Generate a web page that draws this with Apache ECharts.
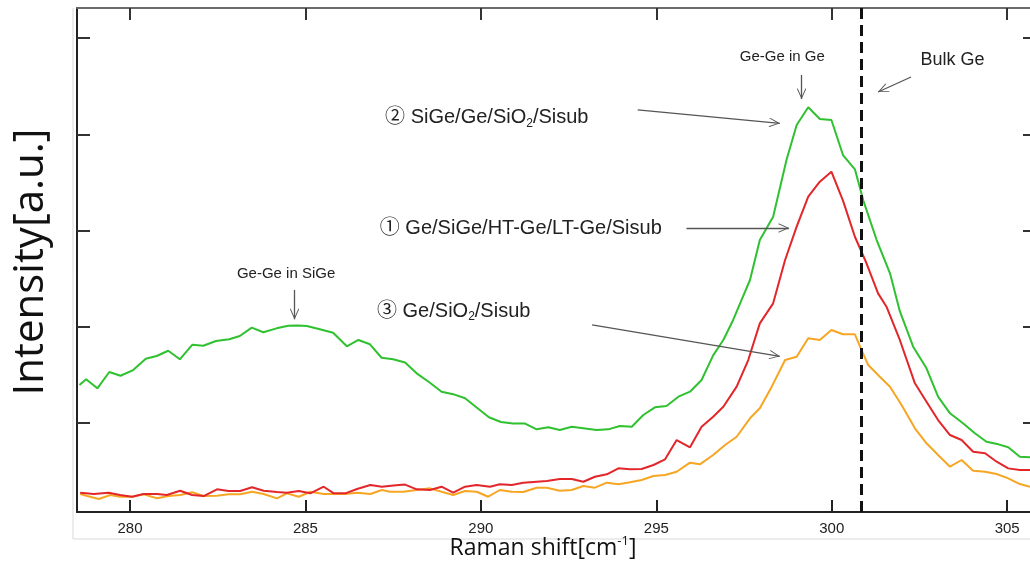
<!DOCTYPE html>
<html>
<head>
<meta charset="utf-8">
<script src="https://cdn.jsdelivr.net/npm/echarts@6/dist/echarts.min.js"></script>
<style>
  html, body { margin: 0; padding: 0; background: #fff; }
  #chart { width: 1030px; height: 567px; }
</style>
</head>
<body>
<div id="chart"></div>
<script>
// Raman spectra of Ge layers, Ge-Ge mode region
const shiftTicks = [280, 285, 290, 295, 300, 305];
const intensityTicks = [1, 2, 3, 4, 5];
const bulkGeShift = 300.85;

// (2) SiGe/Ge/SiO2/Sisub
const greenShift = [278.56, 278.75, 279.07, 279.41, 279.73, 280.09, 280.45, 280.76, 281.09, 281.42, 281.78, 282.09, 282.45, 282.83, 283.13, 283.47, 283.80, 284.18, 284.51, 284.78, 285.04, 285.41, 285.79, 286.18, 286.51, 286.84, 287.17, 287.50, 287.84, 288.17, 288.55, 288.88, 289.21, 289.55, 289.88, 290.23, 290.57, 290.92, 291.26, 291.59, 291.92, 292.25, 292.59, 292.92, 293.30, 293.63, 293.96, 294.30, 294.63, 294.96, 295.29, 295.63, 295.96, 296.29, 296.62, 296.91, 297.19, 297.43, 297.67, 297.95, 298.33, 298.71, 299.00, 299.33, 299.66, 299.99, 300.32, 300.66, 300.90, 301.28, 301.66, 301.94, 302.32, 302.70, 303.03, 303.37, 303.74, 304.08, 304.41, 304.75, 305.03, 305.36, 305.65];
const greenIntensity = [1.391, 1.451, 1.357, 1.527, 1.488, 1.547, 1.665, 1.693, 1.748, 1.659, 1.811, 1.800, 1.849, 1.867, 1.901, 1.988, 1.940, 1.981, 2.008, 2.010, 2.005, 1.971, 1.935, 1.794, 1.860, 1.815, 1.675, 1.659, 1.625, 1.513, 1.415, 1.322, 1.296, 1.253, 1.157, 1.056, 1.006, 0.990, 0.990, 0.930, 0.951, 0.923, 0.957, 0.941, 0.923, 0.930, 0.965, 0.957, 1.079, 1.159, 1.173, 1.270, 1.322, 1.443, 1.700, 1.860, 2.068, 2.276, 2.484, 2.900, 3.143, 3.733, 4.097, 4.281, 4.159, 4.149, 3.784, 3.636, 3.310, 2.900, 2.553, 2.160, 1.790, 1.565, 1.270, 1.097, 0.993, 0.889, 0.801, 0.774, 0.743, 0.645, 0.639];

// (1) Ge/SiGe/HT-Ge/LT-Ge/Sisub
const redShift = [278.58, 278.97, 279.39, 279.72, 280.06, 280.39, 280.77, 281.05, 281.43, 281.77, 282.10, 282.48, 282.81, 283.14, 283.48, 283.81, 284.19, 284.47, 284.81, 285.14, 285.52, 285.81, 286.14, 286.47, 286.85, 287.18, 287.51, 287.84, 288.17, 288.55, 288.88, 289.21, 289.55, 289.88, 290.26, 290.54, 290.88, 291.21, 291.59, 291.88, 292.25, 292.59, 292.92, 293.25, 293.59, 293.92, 294.25, 294.58, 294.92, 295.25, 295.58, 295.96, 296.29, 296.62, 296.91, 297.29, 297.62, 297.95, 298.33, 298.67, 299.00, 299.33, 299.66, 299.99, 300.32, 300.66, 300.99, 301.32, 301.56, 301.94, 302.37, 302.70, 303.03, 303.37, 303.70, 304.03, 304.37, 304.70, 305.03, 305.36, 305.65];
const redIntensity = [0.271, 0.257, 0.271, 0.247, 0.229, 0.257, 0.257, 0.247, 0.291, 0.247, 0.236, 0.306, 0.288, 0.288, 0.327, 0.291, 0.278, 0.271, 0.288, 0.264, 0.333, 0.264, 0.264, 0.309, 0.351, 0.333, 0.345, 0.355, 0.306, 0.299, 0.333, 0.271, 0.333, 0.351, 0.333, 0.358, 0.351, 0.375, 0.385, 0.392, 0.413, 0.413, 0.385, 0.437, 0.462, 0.524, 0.514, 0.517, 0.559, 0.618, 0.819, 0.743, 0.957, 1.061, 1.165, 1.374, 1.651, 2.033, 2.241, 2.692, 3.039, 3.351, 3.507, 3.611, 3.310, 2.934, 2.658, 2.345, 2.206, 1.860, 1.409, 1.218, 1.027, 0.871, 0.819, 0.697, 0.681, 0.593, 0.524, 0.507, 0.507];

// (3) Ge/SiO2/Sisub
const orangeShift = [278.58, 278.78, 279.11, 279.44, 279.72, 280.06, 280.39, 280.77, 281.10, 281.43, 281.77, 282.10, 282.48, 282.81, 283.14, 283.48, 283.81, 284.19, 284.47, 284.81, 285.14, 285.52, 285.81, 286.14, 286.47, 286.85, 287.18, 287.41, 287.79, 288.17, 288.55, 288.88, 289.21, 289.55, 289.88, 290.21, 290.54, 290.88, 291.21, 291.59, 291.88, 292.25, 292.59, 292.92, 293.25, 293.59, 293.92, 294.25, 294.58, 294.92, 295.25, 295.58, 295.96, 296.24, 296.62, 296.96, 297.29, 297.67, 297.95, 298.29, 298.67, 299.00, 299.33, 299.66, 299.99, 300.32, 300.66, 300.85, 301.04, 301.37, 301.66, 301.99, 302.37, 302.70, 303.03, 303.37, 303.70, 304.03, 304.37, 304.70, 305.03, 305.36, 305.65];
const orangeIntensity = [0.257, 0.236, 0.205, 0.247, 0.229, 0.229, 0.254, 0.212, 0.236, 0.247, 0.275, 0.236, 0.239, 0.254, 0.254, 0.281, 0.257, 0.212, 0.264, 0.229, 0.281, 0.257, 0.257, 0.257, 0.271, 0.257, 0.299, 0.281, 0.281, 0.299, 0.316, 0.281, 0.247, 0.288, 0.281, 0.229, 0.299, 0.281, 0.278, 0.323, 0.323, 0.291, 0.299, 0.340, 0.323, 0.375, 0.358, 0.379, 0.403, 0.444, 0.455, 0.489, 0.583, 0.566, 0.663, 0.767, 0.853, 1.045, 1.149, 1.374, 1.651, 1.686, 1.877, 1.860, 1.964, 1.919, 1.919, 1.755, 1.599, 1.478, 1.374, 1.183, 0.941, 0.785, 0.663, 0.541, 0.611, 0.499, 0.489, 0.465, 0.420, 0.361, 0.333];

const pairs = (xs, ys) => xs.map((x, i) => [x, ys[i]]);

const LABEL_FONT = '"Liberation Sans", Arial, "Noto Sans CJK JP", sans-serif';
const TITLE_FONT = '"Open Sans", "Noto Sans", sans-serif';
const TEXT_COLOR = '#222';
const ARROW_COLOR = '#555';

// thin open arrow head; tip sits at the centre of the symbol box
const arrowHead = 'path://M0,13 L10,25 L9,26.4 L0,15.6 L-9,26.4 L-10,25 Z M0,0 L0,0 Z';

const X_MIN = 278.49, X_MAX = 305.65;
const Y_MIN = 0.07, Y_MAX = 5.314;

const subRich = {
  s: { fontSize: 12, lineHeight: 12, verticalAlign: 'bottom', fontFamily: LABEL_FONT, color: TEXT_COLOR },
  t: { fontSize: 20, lineHeight: 24, fontFamily: LABEL_FONT, color: TEXT_COLOR }
};

function noteLabel(text, size, position) {
  return {
    show: true,
    position: position,
    distance: 0,
    formatter: text,
    fontSize: size,
    lineHeight: 24,
    fontFamily: LABEL_FONT,
    color: TEXT_COLOR,
    rich: subRich
  };
}

function arrow(x1, y1, x2, y2) {
  return [{ coord: [x1, y1] }, { coord: [x2, y2] }];
}

const chart = echarts.init(document.getElementById('chart'), null, { renderer: 'canvas' });

const option = {
  animation: false,
  backgroundColor: '#fff',
  grid: { left: 77, top: 8, right: 0, bottom: 55, containLabel: false },
  xAxis: [
    {
      type: 'value', position: 'bottom', min: X_MIN, max: X_MAX,
      axisLine: { show: true, onZero: false, lineStyle: { color: '#222', width: 2 } },
      axisTick: { show: true, inside: true, length: 12, customValues: shiftTicks, lineStyle: { color: '#222', width: 2 } },
      axisLabel: { show: true, customValues: shiftTicks, margin: 9, fontSize: 15, fontFamily: LABEL_FONT, color: '#222' },
      splitLine: { show: false }
    },
    {
      type: 'value', position: 'top', min: X_MIN, max: X_MAX,
      axisLine: { show: true, onZero: false, lineStyle: { color: '#6a6a6a', width: 2 } },
      axisTick: { show: true, inside: true, length: 12, customValues: shiftTicks, lineStyle: { color: '#333', width: 2 } },
      axisLabel: { show: false },
      splitLine: { show: false }
    }
  ],
  yAxis: [
    {
      type: 'value', position: 'left', min: Y_MIN, max: Y_MAX,
      axisLine: { show: true, onZero: false, lineStyle: { color: '#222', width: 2 } },
      axisTick: { show: true, inside: true, length: 13, customValues: intensityTicks, lineStyle: { color: '#333', width: 2 } },
      axisLabel: { show: false },
      splitLine: { show: false }
    },
    {
      // the right frame line lies just past the page edge; only tick stubs show
      type: 'value', position: 'right', min: Y_MIN, max: Y_MAX,
      axisLine: { show: false, onZero: false },
      axisTick: { show: true, inside: true, length: 7, customValues: intensityTicks, lineStyle: { color: '#333', width: 2 } },
      axisLabel: { show: false },
      splitLine: { show: false }
    }
  ],
  series: [
    {
      name: 'Ge/SiO2/Sisub',
      type: 'line',
      data: pairs(orangeShift, orangeIntensity),
      showSymbol: false,
      symbol: 'none',
      lineStyle: { color: '#f6a623', width: 2 },
      itemStyle: { color: '#f6a623' },
      z: 2
    },
    {
      name: 'Ge/SiGe/HT-Ge/LT-Ge/Sisub',
      type: 'line',
      data: pairs(redShift, redIntensity),
      showSymbol: false,
      symbol: 'none',
      lineStyle: { color: '#e2262a', width: 2 },
      itemStyle: { color: '#e2262a' },
      z: 3,
      markLine: {
        silent: true,
        symbol: 'none',
        label: { show: false },
        lineStyle: { color: '#111', width: 3, type: [11, 6] },
        data: [{ xAxis: bulkGeShift }],
        z: 6
      }
    },
    {
      name: 'SiGe/Ge/SiO2/Sisub',
      type: 'line',
      data: pairs(greenShift, greenIntensity),
      showSymbol: false,
      symbol: 'none',
      lineStyle: { color: '#2fc12f', width: 2 },
      itemStyle: { color: '#2fc12f' },
      z: 4,
      markLine: {
        silent: true,
        symbol: ['none', arrowHead],
        symbolSize: [9, 22],
        label: { show: false },
        lineStyle: { color: ARROW_COLOR, width: 1.3, type: 'solid' },
        data: [
          arrow(284.69, 2.38, 284.69, 2.075),
          arrow(294.47, 4.253, 298.52, 4.114),
          arrow(295.86, 3.025, 298.78, 3.025),
          arrow(293.17, 2.016, 298.52, 1.69),
          arrow(299.14, 4.617, 299.14, 4.367),
          arrow(302.26, 4.596, 301.32, 4.44)
        ]
      },
      markPoint: {
        silent: true,
        symbol: 'circle',
        symbolSize: 0,
        itemStyle: { color: 'rgba(0,0,0,0)' },
        data: [
          { coord: [284.45, 2.552], label: noteLabel('Ge-Ge in SiGe', 15, 'inside') },
          { coord: [298.59, 4.804], label: noteLabel('Ge-Ge in Ge', 15, 'inside') },
          { coord: [303.44, 4.768], label: noteLabel('Bulk Ge', 18, 'inside') },
          { coord: [287.27, 4.170], label: noteLabel('{t|② SiGe/Ge/SiO}{s|2}{t|/Sisub}', 20, 'right') },
          { coord: [287.12, 3.015], label: noteLabel('{t|① Ge/SiGe/HT-Ge/LT-Ge/Sisub}', 20, 'right') },
          { coord: [287.04, 2.160], label: noteLabel('{t|③ Ge/SiO}{s|2}{t|/Sisub}', 20, 'right') }
        ]
      }
    }
  ],
  graphic: [
    {
      type: 'polyline',
      silent: true,
      z: -1,
      shape: { points: [[73, 8], [73, 539], [1030, 539]] },
      style: { stroke: '#d9d9d9', lineWidth: 1, fill: null }
    },
    {
      type: 'text',
      silent: true,
      x: 31, y: 262,
      rotation: Math.PI / 2,
      style: {
        text: 'Intensity[a.u.]',
        fontSize: 42,
        fontFamily: TITLE_FONT,
        fill: '#111',
        align: 'center',
        verticalAlign: 'middle'
      }
    },
    {
      type: 'text',
      silent: true,
      x: 543, y: 548,
      style: {
        text: '{m|Raman shift[cm}{p|-1}{m|]}',
        align: 'center',
        verticalAlign: 'middle',
        rich: {
          m: { fontSize: 23, lineHeight: 26, fontFamily: TITLE_FONT, fill: '#111' },
          p: { fontSize: 13, lineHeight: 13, verticalAlign: 'top', fontFamily: TITLE_FONT, fill: '#111' }
        }
      }
    }
  ]
};

chart.setOption(option);
</script>
</body>
</html>
